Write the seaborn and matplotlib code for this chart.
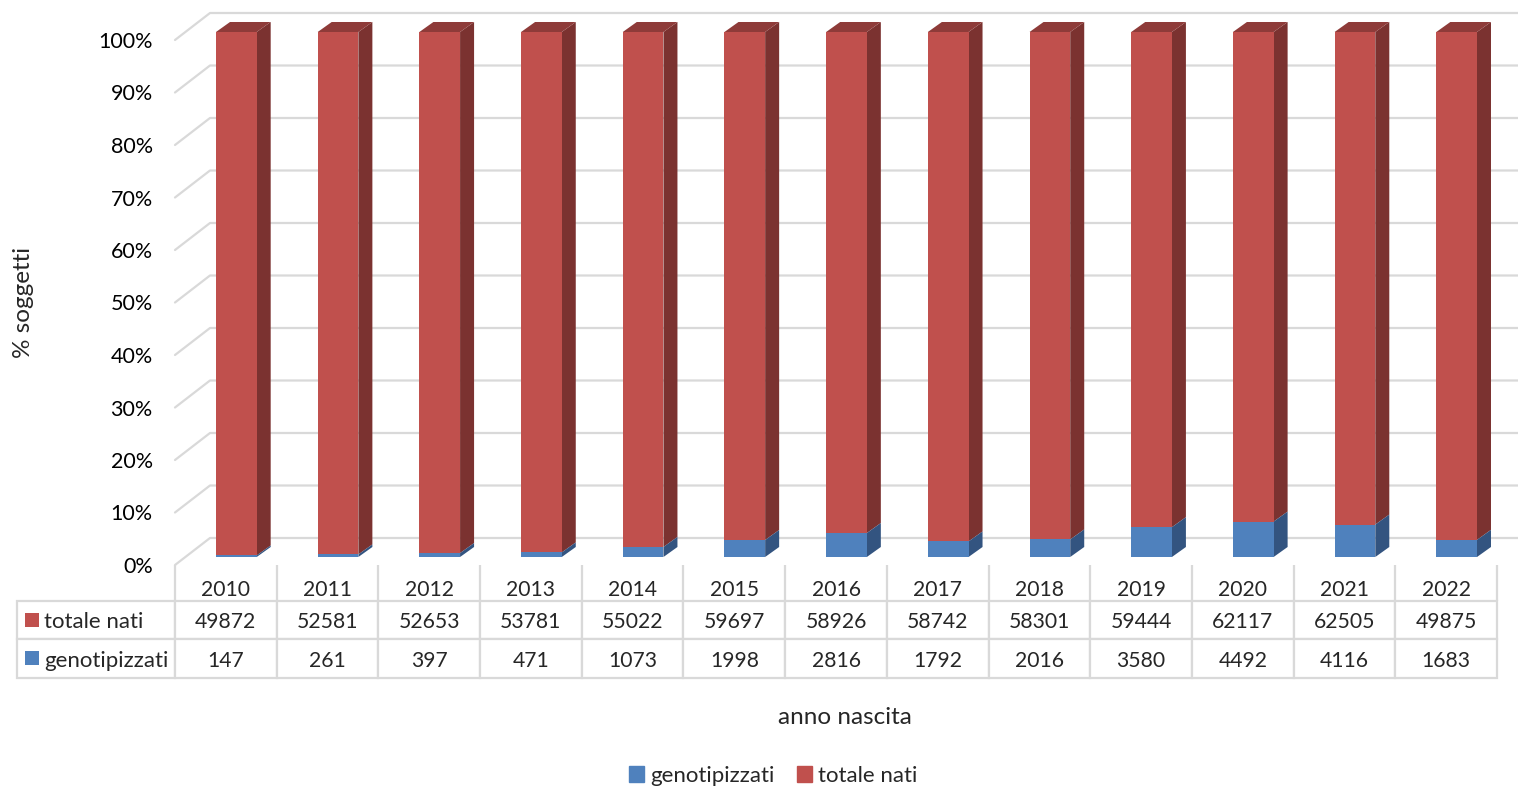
import numpy as np
import pandas as pd
import matplotlib
matplotlib.use("Agg")
import matplotlib.pyplot as plt
from matplotlib.patches import Patch, Polygon, Rectangle
import seaborn as sns

anni = [2010, 2011, 2012, 2013, 2014, 2015, 2016, 2017, 2018, 2019, 2020, 2021, 2022]
totale_nati = [49872, 52581, 52653, 53781, 55022, 59697, 58926, 58742, 58301, 59444, 62117, 62505, 49875]
genotipizzati = [147, 261, 397, 471, 1073, 1998, 2816, 1792, 2016, 3580, 4492, 4116, 1683]
pct_ticks = [0, 10, 20, 30, 40, 50, 60, 70, 80, 90, 100]

RED = "#C0504D"
RED_SIDE = "#7B3230"
RED_TOP = "#8E3B39"
BLUE = "#4F81BD"
BLUE_SIDE = "#335480"
GRID = "#D9D9D9"
W, H = 1518, 787

sns.set_style("white")
plt.rcParams["font.family"] = ["Lato", "DejaVu Sans"]
FS_TICK = 15.5
FS_NUM = 15.2
FS_LAB = 16
FS_TITLE = 17.5

df = pd.DataFrame({"anno": anni, "totale": totale_nati, "geno": genotipizzati})
df["pct_geno"] = df["geno"] / (df["geno"] + df["totale"]) * 100
df["pct_tot"] = 100.0


def px_axes(fig, left, top, right, bottom):
    return fig.add_axes([left / W, 1 - bottom / H, (right - left) / W, (bottom - top) / H])


fig = plt.figure(figsize=(W / 100, H / 100), dpi=100)

# front plane: y labels, walls and table
ax = px_axes(fig, 175, 40, 1497, 565)
ax.set_xlim(0, 13)
ax.set_ylim(0, 100)
sns.despine(ax=ax, left=True, bottom=True)
ax.set_xticks([])
ax.set_yticks(pct_ticks)
ax.set_yticklabels([f"{p}%" for p in pct_ticks], fontsize=FS_TICK, color="black", va="center_baseline")
ax.tick_params(axis="y", length=0, pad=16)

# back wall gridlines, 35px right and 27px up from the front plane
back_x = 35 / (1322 / 13)
back_y = 27 / 5.25
for p in pct_ticks:
    ax.plot([0, back_x, 13 + back_x], [p, p + back_y, p + back_y], color=GRID, lw=1.6, clip_on=False)

# table under the plot, labels are a normal first column so the width can be set
tab = ax.table(
    cellText=[["totale nati"] + [str(v) for v in totale_nati],
              ["genotipizzati"] + [str(v) for v in genotipizzati]],
    colLabels=[""] + [str(a) for a in anni],
    colWidths=[158 / 1322] + [1 / 13] * 13,
    cellLoc="center",
    bbox=[-158 / 1322, -113 / 525, 1480 / 1322, 103 / 525],
)
tab.auto_set_font_size(False)
tab.set_fontsize(FS_NUM)
for (r, c), cell in tab.get_celld().items():
    cell.set_edgecolor(GRID)
    cell.set_linewidth(1.6)
    cell.set_height(26 if r == 0 else 39)
    cell.get_text().set_va("center_baseline")
    if c == 0:
        cell.PAD = 27 / 158
        cell.get_text().set_ha("left")
        cell.get_text().set_fontsize(FS_LAB)
        cell._loc = "left"
    if r == 0:
        cell.visible_edges = "open" if c == 0 else ""

# year row only has the vertical separators
ax.vlines(range(14), -36 / 5.25, 0, color=GRID, lw=1.6, clip_on=False)

for y_px, col in [(620, RED), (658, BLUE)]:
    fig.add_artist(Rectangle((25 / W, 1 - (y_px + 7) / H), 14 / W, 14 / H, transform=fig.transFigure,
                             facecolor=col, edgecolor="none"))

# bars sit 10px right and 8px up from the front plane
bar_ax = px_axes(fig, 185.5, 32, 1507.5, 557)
bar_ax.patch.set_alpha(0)
sns.barplot(data=df, x="anno", y="pct_tot", color=RED, saturation=1, width=0.4, ax=bar_ax,
            zorder=3, linewidth=0, edgecolor="none")
n_red = len(bar_ax.patches)
sns.barplot(data=df, x="anno", y="pct_geno", color=BLUE, saturation=1, width=0.4, ax=bar_ax,
            zorder=3, linewidth=0, edgecolor="none")
bar_ax.set_xlim(-0.5, 12.5)
bar_ax.set_ylim(0, 100)
bar_ax.axis("off")

# 3D look of each column, taken from the patches seaborn drew
dx = 14 / (1322 / 13)
dy = 10 / 5.25
bars = list(bar_ax.patches)
for red, blue in zip(bars[:n_red], bars[n_red:]):
    x0 = red.get_x()
    x1 = x0 + red.get_width()
    top = red.get_height()
    mid = blue.get_height()
    bar_ax.add_patch(Polygon([(x1, mid), (x1 + dx, mid + dy), (x1 + dx, top + dy), (x1, top)],
                             facecolor=RED_SIDE, edgecolor="none", zorder=2, clip_on=False))
    bar_ax.add_patch(Polygon([(x1, 0), (x1 + dx, dy), (x1 + dx, mid + dy), (x1, mid)],
                             facecolor=BLUE_SIDE, edgecolor="none", zorder=2, clip_on=False))
    bar_ax.add_patch(Polygon([(x0, top), (x0 + dx, top + dy), (x1 + dx, top + dy), (x1, top)],
                             facecolor=RED_TOP, edgecolor="none", zorder=2, clip_on=False))

fig.text(24 / W, 1 - 302 / H, "% soggetti", rotation=90, ha="center", va="center", fontsize=FS_TITLE)
fig.text(845 / W, 1 - 717 / H, "anno nascita", ha="center", va="center", fontsize=FS_TITLE)

fig.legend(
    handles=[Patch(color=BLUE, label="genotipizzati"), Patch(color=RED, label="totale nati")],
    loc="center", bbox_to_anchor=(773 / W, 1 - 776 / H), ncol=2, frameon=False, fontsize=FS_LAB,
    handlelength=0.7, handleheight=0.7, handletextpad=0.25, columnspacing=1.0, borderpad=0,
)

fig.savefig("out.png", dpi=100)
